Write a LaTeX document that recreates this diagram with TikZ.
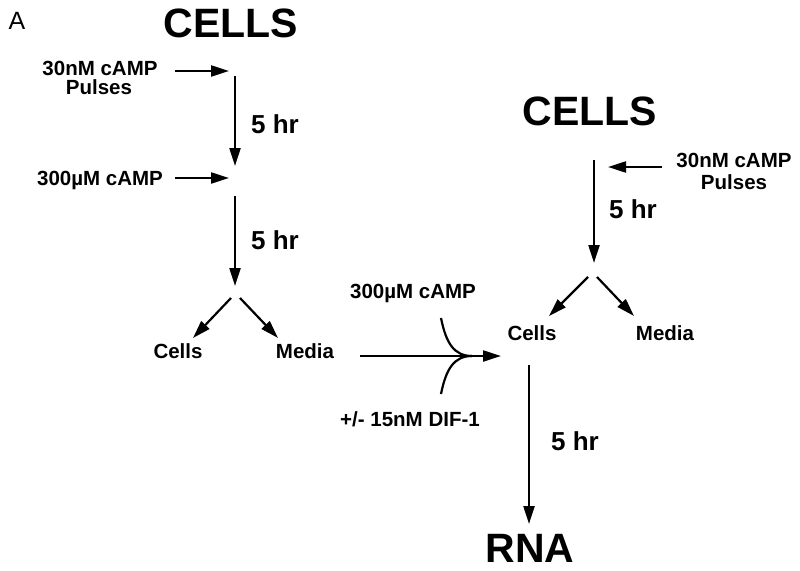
\documentclass[tikz,border=0pt]{standalone}
\usepackage{fontspec}
\setmainfont{Liberation Sans}
\usetikzlibrary{arrows.meta}
\begin{document}
\begin{tikzpicture}[x=1pt,y=-1pt,
  lbl/.style={inner sep=0pt,anchor=base,font=\fontsize{20.5}{24}\selectfont\bfseries},
  big/.style={inner sep=0pt,anchor=base,font=\fontsize{41}{44}\selectfont\bfseries},
  hr/.style={inner sep=0pt,anchor=base,font=\fontsize{26}{30}\selectfont\bfseries},
  arr/.style={line width=2.2pt,-{Triangle[length=18pt,width=11pt]}},
  ln/.style={line width=2.2pt}]
\useasboundingbox (0,0) rectangle (800,570);
% panel letter
\node[inner sep=0pt,anchor=base,font=\fontsize{25}{28}\selectfont] (pA) at (17,29) {A};
% left column
\node[big] (cellsL) at (231,37) {CELLS};
\node[lbl] (pulL1) at (100,75) {30nM cAMP};
\node[lbl] (pulL2) at (99,94) {Pulses};
\coordinate (pulLs) at (175,71);
\coordinate (pulLe) at (229,71);
\draw[arr] (pulLs) -- (pulLe);
\coordinate (v1s) at (235,76);
\coordinate (v1e) at (235,166);
\draw[arr] (v1s) -- (v1e);
\node[hr] (hr1) at (275,133) {5 hr};
\node[lbl] (campL) at (100,185) {300\textmu M cAMP};
\coordinate (campLs) at (175,178);
\coordinate (campLe) at (229,178);
\draw[arr] (campLs) -- (campLe);
\coordinate (v2s) at (235,196);
\coordinate (v2e) at (235,286);
\draw[arr] (v2s) -- (v2e);
\node[hr] (hr2) at (275,249) {5 hr};
\coordinate (sLl) at (231,298);
\coordinate (sLr) at (240,298);
\coordinate (sLle) at (193,338);
\coordinate (sLre) at (278,338);
\draw[arr] (sLl) -- (sLle);
\draw[arr] (sLr) -- (sLre);
\node[lbl] (cellsLs) at (178,358) {Cells};
\node[lbl] (mediaL) at (305,358) {Media};
% merge
\coordinate (ms) at (360,356);
\coordinate (me) at (501,356);
\coordinate (mj) at (472,356);
\coordinate (ct) at (441,318);
\coordinate (cb) at (441,394);
\draw[arr] (ms) -- (me);
\draw[ln] (ct) .. controls (446,343) and (454,356) .. (mj);
\draw[ln] (cb) .. controls (446,369) and (454,356) .. (mj);
\node[lbl] (campM) at (413,298) {300\textmu M cAMP};
\node[lbl] (dif) at (410,426) {+/- 15nM DIF-1};
% right column
\node[big] (cellsR) at (590,125) {CELLS};
\node[lbl] (pulR1) at (734,167) {30nM cAMP};
\node[lbl] (pulR2) at (734,189) {Pulses};
\coordinate (pulRs) at (662,167);
\coordinate (pulRe) at (608,167);
\draw[arr] (pulRs) -- (pulRe);
\coordinate (v3s) at (594,160);
\coordinate (v3e) at (594,263);
\draw[arr] (v3s) -- (v3e);
\node[hr] (hr3) at (633,218) {5 hr};
\coordinate (sRl) at (588,277);
\coordinate (sRr) at (597,277);
\coordinate (sRle) at (549,316);
\coordinate (sRre) at (634,316);
\draw[arr] (sRl) -- (sRle);
\draw[arr] (sRr) -- (sRre);
\node[lbl] (cellsRs) at (532,340) {Cells};
\node[lbl] (mediaR) at (665,340) {Media};
\coordinate (v4s) at (529,365);
\coordinate (v4e) at (529,524);
\draw[arr] (v4s) -- (v4e);
\node[hr] (hr4) at (575,450) {5 hr};
\node[big] (rna) at (530,562) {RNA};
\end{tikzpicture}
\end{document}
